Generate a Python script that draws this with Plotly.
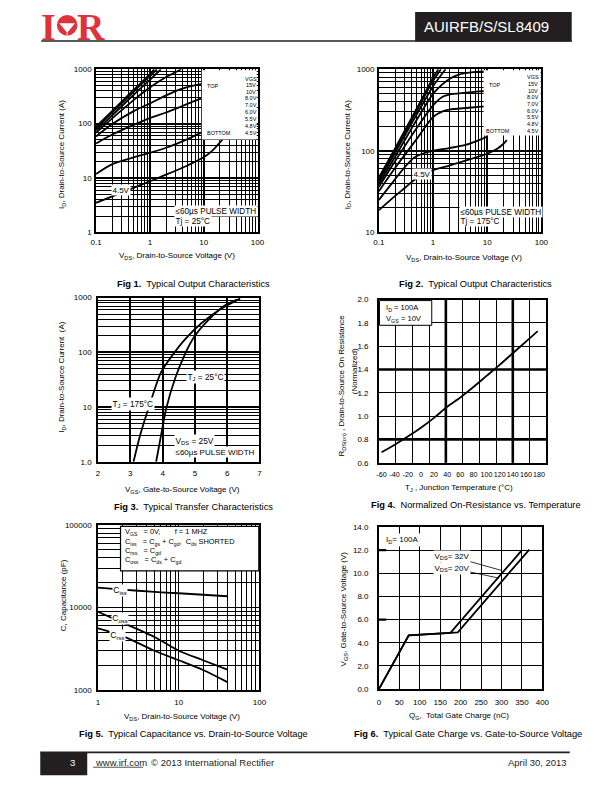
import plotly.graph_objects as go

W, H = 612, 792
FONT = "Liberation Sans, Arial, Helvetica, sans-serif"
SERIF = "Liberation Serif, DejaVu Serif, serif"
INK = "#000000"
RED = "#e0323a"
DARK = "#231f20"

# ---------------- Fig 1 : output characteristics, Tj = 25 C ----------------
fig1_vgs_labels = ["15V", "10V", "8.0V", "7.0V", "6.0V", "5.5V", "4.8V", "4.5V"]
fig1_vds_15v = [0.1, 0.2, 0.5, 1.0, 1.2]
fig1_id_15v = [88, 172, 420, 810, 1000]
fig1_vds_10v = [0.1, 0.2, 0.5, 1.0, 1.35]
fig1_id_10v = [82, 160, 390, 745, 1000]
fig1_vds_8v = [0.1, 0.2, 0.5, 1.0, 1.6]
fig1_id_8v = [75, 142, 340, 640, 1000]
fig1_vds_7v = [0.1, 0.2, 0.5, 1.0, 2.0, 3.0, 3.8]
fig1_id_7v = [68, 125, 270, 460, 720, 880, 1000]
fig1_vds_6v = [0.1, 0.2, 0.5, 1.0, 2.0, 4.0, 7.0, 10.0]
fig1_id_6v = [58, 98, 170, 235, 330, 440, 510, 545]
fig1_vds_55v = [0.1, 0.2, 0.5, 1.0, 2.0, 4.0, 7.0, 10.0]
fig1_id_55v = [43, 63, 95, 126, 160, 210, 265, 300]
fig1_vds_48v = [0.1, 0.2, 0.5, 1.0, 2.0, 5.0, 10.0]
fig1_id_48v = [11.8, 18, 24, 29, 36, 52, 72]
fig1_vds_45v = [0.1, 0.2, 0.5, 1.0, 2.0, 5.0, 10.0, 15.0, 20.0, 25.0]
fig1_id_45v = [3.5, 4.6, 6.6, 8.7, 11.5, 17, 24, 33, 45, 58]

# ---------------- Fig 2 : output characteristics, Tj = 175 C ----------------
fig2_vds_15v = [0.1, 0.2, 0.5, 1.0, 1.25]
fig2_id_15v = [47, 108, 330, 790, 1000]
fig2_vds_10v = [0.1, 0.2, 0.5, 1.0, 1.4]
fig2_id_10v = [45, 102, 310, 720, 1000]
fig2_vds_8v = [0.1, 0.2, 0.5, 1.0, 1.7]
fig2_id_8v = [42, 95, 280, 620, 1000]
fig2_vds_7v = [0.1, 0.2, 0.5, 1.0, 2.0, 3.0, 5.0, 10.0]
fig2_id_7v = [39, 85, 240, 500, 760, 860, 915, 940]
fig2_vds_6v = [0.1, 0.2, 0.5, 1.0, 1.5, 2.0, 4.0, 7.0, 10.0]
fig2_id_6v = [36, 75, 190, 360, 460, 490, 515, 535, 545]
fig2_vds_55v = [0.1, 0.2, 0.5, 1.0, 1.5, 2.0, 4.0, 7.0, 10.0]
fig2_id_55v = [32, 62, 140, 260, 305, 320, 335, 345, 352]
fig2_vds_48v = [0.1, 0.2, 0.3, 0.45, 0.7, 1.0, 2.0, 4.0, 8.0, 10.0]
fig2_id_48v = [25, 45, 63, 83, 94, 100, 108, 118, 140, 150]
fig2_vds_45v = [0.1, 0.2, 0.3, 0.45, 0.7, 1.0, 2.0, 4.0, 10.0, 15.0, 20.0, 23.0]
fig2_id_45v = [18.7, 28, 35, 44, 52, 58, 66, 76, 92, 105, 122, 135]

# ---------------- Fig 3 : transfer characteristics ----------------
fig3_vgs_175c = [3.1, 3.3, 3.6, 3.95, 4.3, 4.7, 5.2, 5.8, 6.4]
fig3_id_175c = [1.0, 3.0, 11, 43, 88, 175, 340, 620, 960]
fig3_vgs_25c = [3.8, 3.95, 4.12, 4.4, 4.7, 5.0, 5.4, 5.9, 6.3]
fig3_id_25c = [1.0, 3.0, 9.8, 35, 95, 200, 380, 700, 920]

# ---------------- Fig 4 : normalized on-resistance ----------------
fig4_tj = [-60, -40, -20, 0, 20, 40, 60, 80, 100, 120, 140, 160, 178]
fig4_rds = [0.69, 0.755, 0.825, 0.90, 0.985, 1.08, 1.16, 1.25, 1.345, 1.44, 1.54, 1.64, 1.73]
fig4_xticks = [-60, -40, -20, 0, 20, 40, 60, 80, 100, 120, 140, 160, 180]

# ---------------- Fig 5 : capacitance ----------------
fig5_vds = [1, 2, 5, 10, 20, 40]
fig5_ciss = [17400, 16500, 15500, 14900, 14300, 13700]
fig5_coss = [8900, 6600, 4400, 3000, 2300, 1770]
fig5_crss = [5600, 4550, 3000, 2300, 1750, 1250]

# ---------------- Fig 6 : gate charge ----------------
fig6_qg_20v = [0, 73, 175, 350]
fig6_vgs_20v = [0, 4.65, 4.85, 12.0]
fig6_qg_32v = [0, 73, 193, 368]
fig6_vgs_32v = [0, 4.65, 4.9, 12.05]


def px(x):
    return x / W


def py(y):
    return 1 - y / H


def log_minor(lo, hi):
    vals = []
    for e in range(lo, hi):
        for m in range(2, 10):
            vals.append(m * 10.0 ** e)
    return vals


def axis(**kw):
    d = dict(showline=True, mirror=True, linecolor=INK, linewidth=1.6, ticks="",
             tickfont=dict(family=FONT, size=8, color=INK), zeroline=False,
             fixedrange=True, showgrid=True, gridcolor=INK, gridwidth=1, tickangle=0)
    d.update(kw)
    return d


def minor_grid(vals, width=0.7):
    return dict(tickmode="array", tickvals=vals, showgrid=True, gridcolor=INK,
                gridwidth=width, ticks="")


fig = go.Figure()


def add_curves(curves, xa, ya, shape="spline", width=1.8):
    for xs, ys in curves:
        fig.add_trace(go.Scatter(x=xs, y=ys, mode="lines", xaxis=xa, yaxis=ya,
                                 line=dict(color=INK, width=width, shape=shape, smoothing=0.8),
                                 hoverinfo="skip", showlegend=False))


add_curves([(fig1_vds_15v, fig1_id_15v), (fig1_vds_10v, fig1_id_10v), (fig1_vds_8v, fig1_id_8v),
            (fig1_vds_7v, fig1_id_7v), (fig1_vds_6v, fig1_id_6v), (fig1_vds_55v, fig1_id_55v),
            (fig1_vds_48v, fig1_id_48v), (fig1_vds_45v, fig1_id_45v)], "x", "y")
add_curves([(fig2_vds_15v, fig2_id_15v), (fig2_vds_10v, fig2_id_10v), (fig2_vds_8v, fig2_id_8v),
            (fig2_vds_7v, fig2_id_7v), (fig2_vds_6v, fig2_id_6v), (fig2_vds_55v, fig2_id_55v),
            (fig2_vds_48v, fig2_id_48v), (fig2_vds_45v, fig2_id_45v)], "x2", "y2")
add_curves([(fig3_vgs_175c, fig3_id_175c), (fig3_vgs_25c, fig3_id_25c)], "x3", "y3")
add_curves([(fig4_tj, fig4_rds)], "x4", "y4")
add_curves([(fig5_vds, fig5_ciss), (fig5_vds, fig5_coss), (fig5_vds, fig5_crss)], "x5", "y5")
add_curves([(fig6_qg_20v, fig6_vgs_20v), (fig6_qg_32v, fig6_vgs_32v)], "x6", "y6", shape="linear")

layout = dict(width=W, height=H, margin=dict(l=0, r=0, t=0, b=0), autosize=False,
              paper_bgcolor="white", plot_bgcolor="white", showlegend=False)

# Fig 1 axes
layout["xaxis"] = axis(type="log", range=[-1, 2], domain=[px(92), px(257)], anchor="y",
                       tickvals=[0.1, 1, 10, 100], ticktext=["0.1", "1", "10", "100"],
                       gridwidth=1.5, minor=minor_grid(log_minor(-1, 2)), ticklabelstandoff=1)
layout["yaxis"] = axis(type="log", range=[0, 3], domain=[py(231), py(66)], anchor="x",
                       tickvals=[1, 10, 100, 1000], ticktext=["1", "10", "100", "1000"],
                       gridwidth=1.5, minor=minor_grid(log_minor(0, 3)), ticklabelstandoff=1)
# Fig 2 axes
layout["xaxis2"] = axis(type="log", range=[-1, 2], domain=[px(381), px(547)], anchor="y2",
                        tickvals=[0.1, 1, 10, 100], ticktext=["0.1", "1", "10", "100"],
                        gridwidth=1.5, minor=minor_grid(log_minor(-1, 2)), ticklabelstandoff=1)
layout["yaxis2"] = axis(type="log", range=[1, 3], domain=[py(231), py(66)], anchor="x2",
                        tickvals=[10, 100, 1000], ticktext=["10", "100", "1000"],
                        gridwidth=1.5, minor=minor_grid(log_minor(1, 3)), ticklabelstandoff=1)
# Fig 3 axes
layout["xaxis3"] = axis(range=[2, 7], dtick=1, tick0=2, domain=[px(94), px(259)], anchor="y3",
                        gridwidth=2, ticklabelstandoff=3)
layout["yaxis3"] = axis(type="log", range=[0, 3], domain=[py(463), py(297)], anchor="x3",
                        tickvals=[1, 10, 100, 1000], ticktext=["1.0", "10", "100", "1000"],
                        gridwidth=2, minor=minor_grid(log_minor(0, 3)), ticklabelstandoff=3)
# Fig 4 axes
fig4_grid = [-64 + 25.5 * k for k in range(1, 10)]
layout["xaxis4"] = axis(range=[-64, 191], domain=[px(381), px(552)], anchor="y4",
                        tickmode="array", tickvals=fig4_xticks,
                        ticktext=[str(v) for v in fig4_xticks], showgrid=False,
                        tickfont=dict(family=FONT, size=7.2, color=INK),
                        minor=minor_grid(fig4_grid, 1), ticklabelstandoff=4)
layout["yaxis4"] = axis(range=[0.6, 2.0], dtick=0.2, tick0=0.6, tickformat=".1f",
                        domain=[py(464), py(299)], anchor="x4", ticklabelstandoff=7)
# Fig 5 axes
layout["xaxis5"] = axis(type="log", range=[0, 2], domain=[px(94), px(259)], anchor="y5",
                        tickvals=[1, 10, 100], ticktext=["1", "10", "100"],
                        gridwidth=1.3, minor=minor_grid(log_minor(0, 2), 0.8), ticklabelstandoff=3)
layout["yaxis5"] = axis(type="log", range=[3, 5], domain=[py(694), py(527)], anchor="x5",
                        tickvals=[1000, 10000, 100000], ticktext=["1000", "10000", "100000"],
                        gridwidth=1.3, minor=minor_grid(log_minor(3, 5), 0.8), ticklabelstandoff=3)
# Fig 6 axes
layout["xaxis6"] = axis(range=[0, 400], dtick=50, tick0=0, domain=[px(381), px(548)], anchor="y6",
                        ticklabelstandoff=4)
layout["yaxis6"] = axis(range=[0, 14], dtick=2, tick0=0, tickformat=".1f",
                        domain=[py(693), py(529)], anchor="x6", ticklabelstandoff=7)

fig.update_layout(**layout)

ann = []
shapes = []


def text(t, x, y, size=8, xanchor="center", yanchor="middle", angle=0, color=INK,
         bg=None, family=FONT, pad=1):
    a = dict(text=t, x=px(x), y=py(y), xref="paper", yref="paper", showarrow=False,
             xanchor=xanchor, yanchor=yanchor, textangle=angle,
             font=dict(family=family, size=size, color=color), borderpad=pad)
    if bg:
        a["bgcolor"] = bg
    ann.append(a)


def rect(x0, y0, x1, y1, fill="white", line=None, lw=1, layer="above"):
    s = dict(type="rect", xref="paper", yref="paper", x0=px(x0), x1=px(x1), y0=py(y1), y1=py(y0),
             fillcolor=fill, layer=layer, line=dict(width=0 if line is None else lw,
                                                   color=line or "rgba(0,0,0,0)"))
    shapes.append(s)


def hline(x0, x1, y, w=1.5, color=DARK):
    shapes.append(dict(type="line", xref="paper", yref="paper", x0=px(x0), x1=px(x1),
                       y0=py(y), y1=py(y), line=dict(color=color, width=w), layer="above"))


# ---------------- header ----------------
text("<b>I</b>", 43, 23, size=38, color=RED, family=SERIF)
shapes.append(dict(type="circle", xref="paper", yref="paper", x0=px(52), x1=px(73),
                   y0=py(32), y1=py(11), fillcolor=RED, line=dict(width=0), layer="above"))
shapes.append(dict(type="path", xref="paper", yref="paper",
                   path=f"M {px(54.5)} {py(19.5)} L {px(70.5)} {py(19.5)} L {px(62.5)} {py(29)} Z",
                   fillcolor="white", line=dict(width=0), layer="above"))
shapes.append(dict(type="line", xref="paper", yref="paper", x0=px(62.5), x1=px(62.5),
                   y0=py(29), y1=py(32), line=dict(color="white", width=1), layer="above"))
text("<b>R</b>", 87, 23, size=38, color=RED, family=SERIF)
rect(418, 8, 578, 38, fill=DARK)
text("AUIRFB/S/SL8409", 425, 23, size=15, xanchor="left", color="white")
hline(36, 578, 37.5, w=1.6)

# ---------------- footer ----------------
hline(35, 576, 757, w=1.6)
rect(35, 757, 83, 780, fill=DARK)
text("3", 68, 767, size=9.5, color="white")
text("www.irf.com", 89, 767, size=9.5, xanchor="left", color=DARK)
hline(89, 140, 772, w=0.8)
text("© 2013 International Rectifier", 146, 767, size=9.5, xanchor="left", color=DARK)
text("April 30, 2013", 575, 767, size=9.5, xanchor="right", color=DARK)

CAP = 9.3
AX = 8

# ---------------- Fig 1 text ----------------
rect(200, 66.9, 256.2, 137)
text("VGS", 250, 75.7, size=5.5)
text("TOP", 211.5, 83.3, size=5.5)
text("BOTTOM", 218, 130, size=5.5)
for i, lab in enumerate(fig1_vgs_labels):
    text(lab, 250, 81.7 + i * 6.9, size=5.5)
text("4.5V", 118, 188.3, size=8, bg="white", pad=0.5)
text("≤60µs PULSE WIDTH", 172, 209.3, size=8.2, xanchor="left", bg="white", pad=0.5)
text("Tj = 25°C", 172, 219.5, size=8.2, xanchor="left", bg="white", pad=0.5)
text("I<sub>D</sub>, Drain-to-Source Current (A)", 58, 152, size=AX, angle=-90)
text("V<sub>DS</sub>, Drain-to-Source Voltage (V)", 175, 255, size=AX)
text("<b>Fig 1.</b>  Typical Output Characteristics", 192, 283.3, size=CAP)

# ---------------- Fig 2 text ----------------
rect(488, 66.9, 546.2, 133)
text("VGS", 538, 74.3, size=5.5)
text("TOP", 500, 82.3, size=5.5)
text("BOTTOM", 503, 128.3, size=5.5)
for i, lab in enumerate(fig1_vgs_labels):
    text(lab, 538, 81 + i * 6.75, size=5.5)
text("4.5V", 425, 172.3, size=8, bg="white", pad=0.5)
text("≤60µs PULSE WIDTH", 463, 210, size=8.2, xanchor="left", bg="white", pad=0.5)
text("Tj = 175°C", 463, 219.7, size=8.2, xanchor="left", bg="white", pad=0.5)
text("I<sub>D</sub>, Drain-to-Source Current (A)", 349.3, 152, size=AX, angle=-90)
text("V<sub>DS</sub>, Drain-to-Source Voltage (V)", 468, 256.7, size=AX)
text("<b>Fig 2.</b>  Typical Output Characteristics", 480, 283.3, size=CAP)

# ---------------- Fig 3 text ----------------
text("T<sub>J</sub> = 25°C", 204, 377, size=8.3, bg="white", pad=0.5)
text("T<sub>J</sub> = 175°C", 129.5, 405, size=8.3, bg="white", pad=0.5)
text("V<sub>DS</sub> = 25V", 193, 442, size=8.3, bg="white", pad=0.5)
text("≤60µs PULSE WIDTH", 172, 453.5, size=8, xanchor="left", bg="white", pad=0.5)
text("I<sub>D</sub>, Drain-to-Source Current  (A)", 57.3, 377, size=AX, angle=-90)
text("V<sub>GS</sub>, Gate-to-Source Voltage (V)", 180, 491.7, size=AX)
text("<b>Fig 3.</b>  Typical Transfer Characteristics", 191.7, 508.3, size=CAP)

# ---------------- Fig 4 text ----------------
for k in (4, 8):
    shapes.append(dict(type="line", xref="x4", yref="y4 domain", x0=fig4_grid[k - 1],
                       x1=fig4_grid[k - 1], y0=0, y1=1, line=dict(color=INK, width=2.6),
                       layer="below"))
for v in (0.8, 1.4):
    shapes.append(dict(type="line", xref="x4 domain", yref="y4", x0=0, x1=1, y0=v, y1=v,
                       line=dict(color=INK, width=2.6), layer="below"))
rect(381.6, 300, 435, 325, line=INK, lw=1)
text("I<sub>D</sub> = 100A", 386, 308, size=7.6, xanchor="left")
text("V<sub>GS</sub> = 10V", 386, 318.5, size=7.6, xanchor="left")
text("R<sub>DS(on)</sub> , Drain-to-Source On Resistance", 343.3, 386, size=AX, angle=-90)
text("(Normalized)", 356, 371, size=AX, angle=-90)
text("T<sub>J</sub> , Junction Temperature (°C)", 463.3, 490, size=AX)
text("<b>Fig 4.</b>  Normalized On-Resistance vs. Temperature", 480, 506.7, size=CAP)

# ---------------- Fig 5 text ----------------
rect(117, 528.3, 258.3, 573.3, line=INK, lw=1.2)
text("V<sub>GS</sub>   = 0V,       f = 1 MHZ", 119.5, 534.5, size=7.4, xanchor="left")
text("C<sub>iss</sub>   = C<sub>gs</sub> + C<sub>gd</sub>,  C<sub>ds</sub> SHORTED", 119.5, 543.8,
     size=7.4, xanchor="left")
text("C<sub>rss</sub>   = C<sub>gd</sub>", 119.5, 553, size=7.4, xanchor="left")
text("C<sub>oss</sub>   = C<sub>ds</sub> + C<sub>gd</sub>", 119.5, 562.3, size=7.4, xanchor="left")
text("C<sub>iss</sub>", 116, 593, size=8.5, bg="white", pad=0.3)
text("C<sub>oss</sub>", 116, 621.7, size=8.5, bg="white", pad=0.3)
text("C<sub>rss</sub>", 113.5, 638.3, size=8.5, bg="white", pad=0.3)
text("C, Capacitance (pF)", 58.3, 598, size=AX, angle=-90)
text("V<sub>DS</sub>, Drain-to-Source Voltage (V)", 180, 721.7, size=AX)
text("<b>Fig 5.</b>  Typical Capacitance vs. Drain-to-Source Voltage", 191.7, 738.3, size=CAP)

# ---------------- Fig 6 text ----------------
for v in (6, 12):
    shapes.append(dict(type="line", xref="x6 domain", yref="y6", x0=0, x1=0.045, y0=v, y1=v,
                       line=dict(color=INK, width=2.4), layer="above"))
text("I<sub>D</sub>= 100A", 405, 542, size=8, bg="white", pad=1)
ann.append(dict(text="V<sub>DS</sub>= 32V", x=301, y=10.24, xref="x6", yref="y6", showarrow=True,
                arrowhead=0, arrowwidth=0.8, arrowcolor=INK, ax=-50, ay=-14,
                font=dict(family=FONT, size=8, color=INK), bgcolor="white", borderpad=0.5))
ann.append(dict(text="V<sub>DS</sub>= 20V", x=293, y=9.59, xref="x6", yref="y6", showarrow=True,
                arrowhead=0, arrowwidth=0.8, arrowcolor=INK, ax=-47, ay=-10,
                font=dict(family=FONT, size=8, color=INK), bgcolor="white", borderpad=0.5))
text("V<sub>GS</sub>, Gate-to-Source Voltage (V)", 345, 611.7, size=AX, angle=-90)
text("Q<sub>G</sub>,  Total Gate Charge (nC)", 463.3, 720, size=AX)
text("<b>Fig 6.</b>  Typical Gate Charge vs. Gate-to-Source Voltage", 471.7, 738.3, size=CAP)

fig.update_layout(annotations=ann, shapes=shapes)
fig.write_html("out.html")
